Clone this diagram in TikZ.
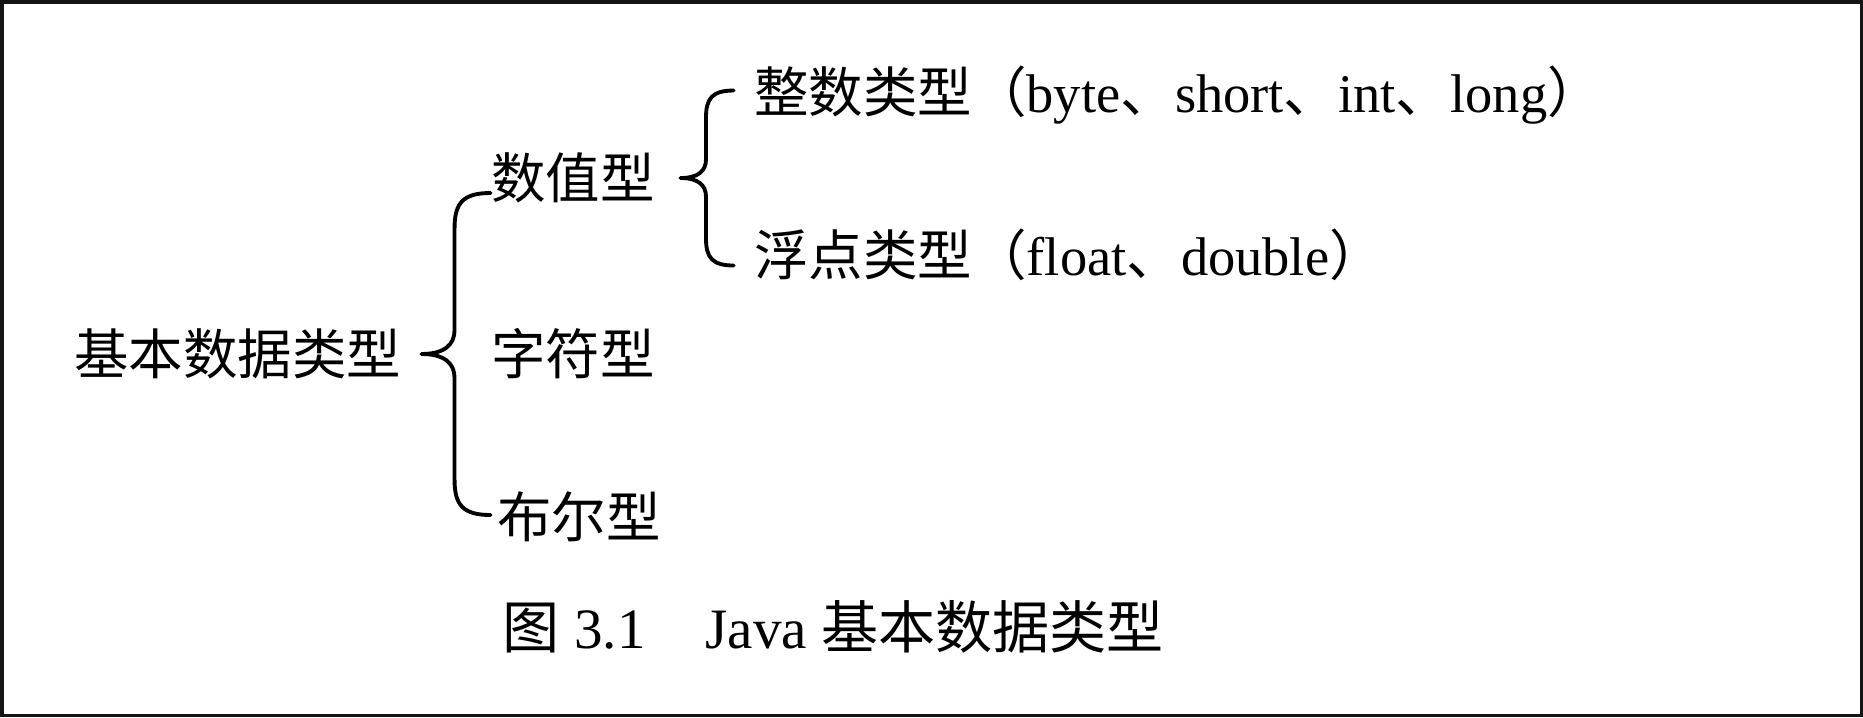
\documentclass[tikz,border=0pt]{standalone}
\usepackage{fontspec}
\setmainfont{Liberation Serif}
\newfontfamily\cjk{Noto Sans CJK SC}
\newcommand{\zh}[1]{{\cjk #1}}

\begin{document}
\begin{tikzpicture}[
    typ/.style={
      anchor=west,
      inner sep=0pt,
      font=\fontsize{31}{36}\selectfont},
    klammer/.style={
      line width=2.2pt,
      line cap=round},
    rahmen/.style={
      line width=0.07cm,
      draw=black!92},
    /geschweift/.code n args={3}{
      \draw [klammer, scale=#3] #1
        .. controls +(0.45,0) and +(0,-0.3) .. ++(0.66,0.48)
        -- ++(0,#2/#3-1.18)
        .. controls +(0,0.5) and +(-0.55,0) .. ++(0.72,0.7);
      \draw [klammer, scale=#3] #1
        .. controls +(0.45,0) and +(0,0.3) .. ++(0.66,-0.48)
        -- ++(0,-#2/#3+1.18)
        .. controls +(0,-0.5) and +(-0.55,0) .. ++(0.72,-0.7);
      }
    ]

  \useasboundingbox (0,0) rectangle (37.26,-14.34);
  \draw [rahmen] (0.035,-0.035) rectangle (37.225,-14.305);

  \node at (1.48,-7.08) (jbsj) [typ] {\zh{基本数据类型}};

  \node at (9.82,-3.56) (szx) [typ] {\zh{数值型}};
  \node at (9.82,-7.08) (zfx) [typ] {\zh{字符型}};
  \node at (9.94,-10.34) (bex) [typ] {\zh{布尔型}};

  \node at (15.08,-1.9) (zslx) [typ] {\zh{整数类型（}byte\zh{、}short\zh{、}int\zh{、}long\zh{）}};
  \node at (15.08,-5.1) (fdlx) [typ] {\zh{浮点类型（}float\zh{、}double\zh{）}};

  \node at (10.05,-12.54) (tu) [typ, font=\fontsize{32.5}{38}\selectfont]
    {\zh{图} 3.1\hspace{1.05em}Java \zh{基本数据类型}};

  \tikzset{/geschweift={([xshift=0.4cm]jbsj.east)}{3.22}{1}}
  \tikzset{/geschweift={([xshift=0.66cm]szx.east)}{1.75}{0.77}}

\end{tikzpicture}
\end{document}
